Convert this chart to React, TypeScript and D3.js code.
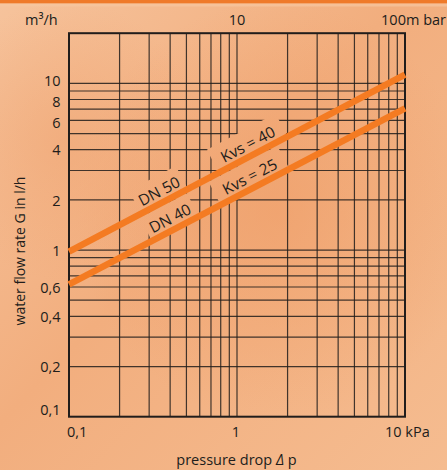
import React from "react";
import * as d3 from "d3";

// pressure drop (kPa) at the two ends of each characteristic line
const pressureKpa = [0.1, 10];
// water flow (m3/h) at those pressures
const flowDN50 = [0.977, 11.3];
const flowDN40 = [0.623, 7.08];
const lineNames = ["DN 50", "DN 40"];
const kvsLabels = ["Kvs = 40", "Kvs = 25"];

// grid
const xGrid = [0.2, 0.3, 0.4, 0.5, 0.6, 0.7, 0.8, 0.9, 1, 2, 3, 4, 5, 6, 7, 8, 9];
const yGrid = [0.2, 0.3, 0.4, 0.5, 0.6, 0.7, 0.8, 0.9, 1, 2, 3, 4, 5, 6, 7, 8, 9, 10];

// tick labels
const yTickValues = [0.1, 0.2, 0.4, 0.6, 1, 2, 4, 6, 8, 10];
const yTickLabels = ["0,1", "0,2", "0,4", "0,6", "1", "2", "4", "6", "8", "10"];
const xTickValues = [0.1, 1, 10];
const xTickLabels = ["0,1", "1", "10 kPa"];
const topTickValues = [1, 10];
const topTickLabels = ["10", "100m bar"];

const W = 447;
const H = 470;
const FONT = "'Open Sans', 'Noto Sans', sans-serif";
const INK = "#211d1b";
const ORANGE = "#F47B22";

const App = () => {
  const x = d3.scaleLog().domain([0.1, 10]).range([69, 405]);
  const y = d3.scaleLog().domain([0.1, 20]).range([416.7, 33.2]);

  const flows = [flowDN50, flowDN40];
  const line = d3
    .line<number>()
    .x((_, i) => x(pressureKpa[i]))
    .y((d) => y(d));

  // where along each line the labels sit (pressure in kPa)
  const nameAt = [0.37, 0.43];
  const kvsAt = [1.25, 1.28];

  const labelPos = (k: number, p: number) => {
    const f = flows[k];
    const t = (Math.log10(p) - Math.log10(pressureKpa[0])) /
      (Math.log10(pressureKpa[1]) - Math.log10(pressureKpa[0]));
    const q = Math.pow(10, Math.log10(f[0]) + t * (Math.log10(f[1]) - Math.log10(f[0])));
    const ang =
      (Math.atan2(y(f[1]) - y(f[0]), x(pressureKpa[1]) - x(pressureKpa[0])) * 180) / Math.PI;
    return { px: x(p), py: y(q), ang };
  };

  const labels: { text: string; px: number; py: number; ang: number }[] = [];
  lineNames.forEach((n, k) => labels.push({ text: n, ...labelPos(k, nameAt[k]) }));
  kvsLabels.forEach((n, k) => labels.push({ text: n, ...labelPos(k, kvsAt[k]) }));

  const [x0, x1] = x.range();
  const [y0, y1] = y.range();

  // small vertical nudges of y tick labels as printed on the original
  const yNudge = (v: number) => (v === 0.1 ? -6.5 : v === 10 ? -2.6 : v === 8 || v === 6 ? 2.4 : 0.5);

  return (
    <svg
      width={W}
      height={H}
      style={{ position: "fixed", left: 0, top: 0, display: "block" }}
      fontFamily={FONT}
    >
      <defs>
        <linearGradient id="bg" x1="0" y1="0" x2="1" y2="1">
          <stop offset="0" stopColor="#F6C39C" />
          <stop offset="0.45" stopColor="#F2AE7E" />
          <stop offset="1" stopColor="#F5BC90" />
        </linearGradient>
        <radialGradient id="glow" cx="0.62" cy="0.45" r="0.45">
          <stop offset="0" stopColor="#EE9860" stopOpacity="0.5" />
          <stop offset="1" stopColor="#EE9860" stopOpacity="0" />
        </radialGradient>
        <radialGradient id="glow2" cx="0.15" cy="0.3" r="0.3">
          <stop offset="0" stopColor="#EFA06C" stopOpacity="0.45" />
          <stop offset="1" stopColor="#EFA06C" stopOpacity="0" />
        </radialGradient>
        <mask id="knock">
          <rect x={0} y={0} width={W} height={H} fill="white" />
          {labels.map((l, i) => {
            const w = l.text.length * 8.2;
            return (
              <g key={i} transform={`translate(${l.px},${l.py}) rotate(${l.ang})`}>
                <rect x={-w / 2 - 6} y={-26} width={w + 12} height={25} fill="black" />
              </g>
            );
          })}
        </mask>
      </defs>

      {/* background */}
      <rect x={0} y={0} width={W} height={H} fill="url(#bg)" />
      <rect x={0} y={0} width={W} height={H} fill="url(#glow)" />
      <rect x={0} y={0} width={W} height={H} fill="url(#glow2)" />
      <rect x={0} y={0} width={W} height={3.5} fill="#EF7A2A" />
      <rect x={0} y={3.5} width={W} height={3} fill="#F7C6A0" opacity={0.7} />

      {/* grid */}
      <g mask="url(#knock)" stroke={INK} strokeWidth={1.2} strokeOpacity={0.85}>
        {xGrid.map((v) => (
          <line key={"gx" + v} x1={x(v)} x2={x(v)} y1={y1} y2={y0} />
        ))}
        {yGrid.map((v) => (
          <line key={"gy" + v} x1={x0} x2={x1} y1={y(v)} y2={y(v)} />
        ))}
      </g>

      {/* frame */}
      <rect
        x={x0}
        y={y1}
        width={x1 - x0}
        height={y0 - y1}
        fill="none"
        stroke={INK}
        strokeWidth={2}
      />

      {/* characteristic lines */}
      {flows.map((f, k) => (
        <path key={k} d={line(f) || ""} fill="none" stroke={ORANGE} strokeWidth={6.5} />
      ))}

      {/* line labels */}
      {labels.map((l, i) => (
        <text
          key={i}
          transform={`translate(${l.px},${l.py}) rotate(${l.ang})`}
          y={-6}
          textAnchor="middle"
          fontSize={15.5}
          fill={INK}
        >
          {l.text}
        </text>
      ))}

      {/* y tick labels */}
      {yTickValues.map((v, i) => (
        <text
          key={"yt" + v}
          x={60.5}
          y={y(v) + yNudge(v) + 5.2}
          textAnchor="end"
          fontSize={14.5}
          fill={INK}
        >
          {yTickLabels[i]}
        </text>
      ))}

      {/* bottom tick labels */}
      {xTickValues.map((v, i) => (
        <text
          key={"xt" + v}
          x={v === 0.1 ? x(v) - 2 : v === 10 ? x(v) - 20 : x(v) - 1}
          y={437}
          textAnchor={v === 1 ? "middle" : "start"}
          fontSize={14.5}
          fill={INK}
        >
          {xTickLabels[i]}
        </text>
      ))}

      {/* top tick labels */}
      <text x={25} y={25} fontSize={14.5} fill={INK}>
        m³/h
      </text>
      {topTickValues.map((v, i) => (
        <text
          key={"tt" + v}
          x={v === 10 ? W - 1 : x(v)}
          y={25}
          textAnchor={v === 10 ? "end" : "middle"}
          fontSize={14.5}
          fill={INK}
        >
          {topTickLabels[i]}
        </text>
      ))}

      {/* axis titles */}
      <text x={236.5} y={465} textAnchor="middle" fontSize={14.5} fill={INK}>
        pressure drop <tspan fontStyle="italic">Δ</tspan> p
      </text>
      <text
        transform="translate(25,251) rotate(-90)"
        textAnchor="middle"
        fontSize={14}
        fill={INK}
      >
        water flow rate G in l/h
      </text>
    </svg>
  );
};

export default App;
